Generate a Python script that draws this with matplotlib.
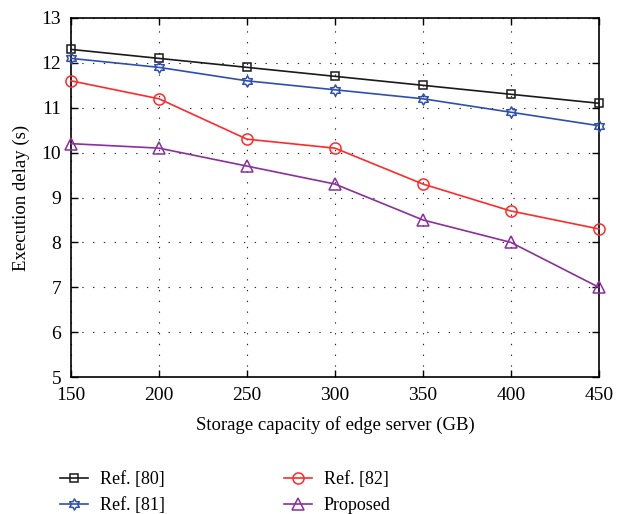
#!/usr/bin/env python3
"""Execution delay versus storage capacity of edge server."""

import matplotlib
import numpy as np

matplotlib.use("Agg")
import matplotlib.pyplot as plt
from matplotlib.path import Path

plt.rcParams["font.family"] = ["Liberation Serif", "DejaVu Serif"]
plt.rcParams["mathtext.fontset"] = "stix"

capacity = [150, 200, 250, 300, 350, 400, 450]
ref80 = [12.3, 12.1, 11.9, 11.7, 11.5, 11.3, 11.1]
ref81 = [12.1, 11.9, 11.6, 11.4, 11.2, 10.9, 10.6]
ref82 = [11.6, 11.2, 10.3, 10.1, 9.3, 8.7, 8.3]
proposed = [10.2, 10.1, 9.7, 9.3, 8.5, 8.0, 7.0]
series_labels = ["Ref. [80]", "Ref. [81]", "Ref. [82]", "Proposed"]
x_ticks = [150, 200, 250, 300, 350, 400, 450]
y_ticks = [5, 6, 7, 8, 9, 10, 11, 12, 13]


def hexagram_marker() -> Path:
    angles = np.deg2rad(90 + 30 * np.arange(12))
    radii = np.where(np.arange(12) % 2 == 0, 1.0, 1.0 / np.sqrt(3))
    verts = np.column_stack((radii * np.cos(angles), radii * np.sin(angles)))
    verts = np.vstack((verts, verts[:1]))
    codes = [Path.MOVETO] + [Path.LINETO] * 11 + [Path.CLOSEPOLY]
    return Path(verts, codes)


fig = plt.figure(figsize=(6.31, 5.14), dpi=100)
ax = fig.add_axes([0.1125, 0.2665, 0.8365, 0.6985])

styles = [
    dict(color="#1a1a1a", marker="s", ms=6),
    dict(color="#2e4fb0", marker=hexagram_marker(), ms=8),
    dict(color="#ff2a2a", marker="o", ms=8),
    dict(color="#8a2f9e", marker="^", ms=8.5),
]
handles = []
for values, label, st in zip([ref80, ref81, ref82, proposed], series_labels, styles):
    (h,) = ax.plot(
        capacity,
        values,
        color=st["color"],
        lw=1.2,
        marker=st["marker"],
        ms=st["ms"],
        mfc="none",
        mec=st["color"],
        mew=1.1,
        label=label,
        clip_on=False,
        zorder=3,
    )
    handles.append(h)

ax.set_xlim(150, 450)
ax.set_ylim(5, 13)
ax.set_xticks(x_ticks)
ax.set_yticks(y_ticks)
ax.grid(True, color="black", linestyle=(0, (1.2, 8.5)), linewidth=0.8, alpha=0.85)
ax.tick_params(direction="in", top=True, right=True, labelsize=14, length=5,
               pad=7, width=1)
for spine in ax.spines.values():
    spine.set_linewidth(1.2)
ax.set_xlabel("Storage capacity of edge server (GB)", fontsize=13.5, labelpad=9)
ax.set_ylabel("Execution delay (s)", fontsize=13.5, labelpad=8)

fig.legend(
    handles=handles,
    labels=series_labels,
    ncol=2,
    frameon=False,
    fontsize=13,
    loc="upper left",
    bbox_to_anchor=(0.095, 0.083),
    borderpad=0.0,
    borderaxespad=0.0,
    handlelength=1.55,
    handletextpad=0.65,
    columnspacing=6.6,
    labelspacing=0.48,
)

fig.savefig("out.png", dpi=100)
